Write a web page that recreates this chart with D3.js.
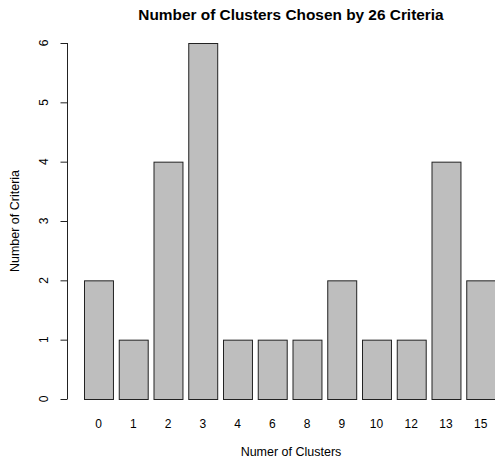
<!DOCTYPE html>
<html>
<head>
<meta charset="utf-8">
<script src="https://cdn.jsdelivr.net/npm/d3@7"></script>
<style>
  body { margin: 0; background: #fff; }
  text { font-family: "Liberation Sans", Arial, sans-serif; fill: #000; }
</style>
</head>
<body>
<script>
var clusters = ['0', '1', '2', '3', '4', '6', '8', '9', '10', '12', '13', '15']
var criteria = [2, 1, 4, 6, 1, 1, 1, 2, 1, 1, 4, 2]
var yTicks = [0, 1, 2, 3, 4, 5, 6]

var width = 495, height = 458
var svg = d3.select('body').append('svg')
  .attr('width', width)
  .attr('height', height)

var step = 34.75
var x = d3.scaleBand()
  .domain(clusters)
  .range([84 - step / 12, 84 + 12 * step - step / 12])
  .paddingInner(1 / 6)
  .paddingOuter(1 / 12)
  .align(0.5)

var y = d3.scaleLinear().domain([0, 6]).range([399, 43])

// bars
svg.selectAll('rect')
  .data(criteria)
  .enter().append('rect')
    .attr('x', (d, i) => x(clusters[i]) + 0.5)
    .attr('y', d => y(d) + 0.5)
    .attr('width', x.bandwidth())
    .attr('height', d => y(0) - y(d))
    .attr('fill', '#bebebe')
    .attr('stroke', '#222')
    .attr('stroke-width', 1)

// y axis, R style
var yAxis = svg.append('g').attr('transform', 'translate(67.5,0)')
yAxis.append('line')
  .attr('y1', y(0)).attr('y2', y(6))
  .attr('stroke', '#222')
yAxis.selectAll('.tick')
  .data(yTicks)
  .enter().append('line')
    .attr('x1', -7).attr('x2', 0)
    .attr('y1', d => y(d) + 0.5).attr('y2', d => y(d) + 0.5)
    .attr('stroke', '#222')
yAxis.selectAll('text')
  .data(yTicks)
  .enter().append('text')
    .attr('transform', d => 'translate(-20,' + y(d) + ') rotate(-90)')
    .attr('text-anchor', 'middle')
    .attr('font-size', 12)
    .text(d => d)

// category labels under bars
svg.selectAll('.xlab')
  .data(clusters)
  .enter().append('text')
    .attr('class', 'xlab')
    .attr('x', d => x(d) + x.bandwidth() / 2)
    .attr('y', 428)
    .attr('text-anchor', 'middle')
    .attr('font-size', 12)
    .text(d => d)

svg.append('text')
  .attr('x', 291).attr('y', 20)
  .attr('text-anchor', 'middle')
  .attr('font-size', 15.4)
  .attr('font-weight', 'bold')
  .text('Number of Clusters Chosen by 26 Criteria')

svg.append('text')
  .attr('x', 291).attr('y', 456)
  .attr('text-anchor', 'middle')
  .attr('font-size', 12.5)
  .text('Numer of Clusters')

svg.append('text')
  .attr('transform', 'translate(19,221) rotate(-90)')
  .attr('text-anchor', 'middle')
  .attr('font-size', 12.5)
  .text('Number of Criteria')
</script>
</body>
</html>
